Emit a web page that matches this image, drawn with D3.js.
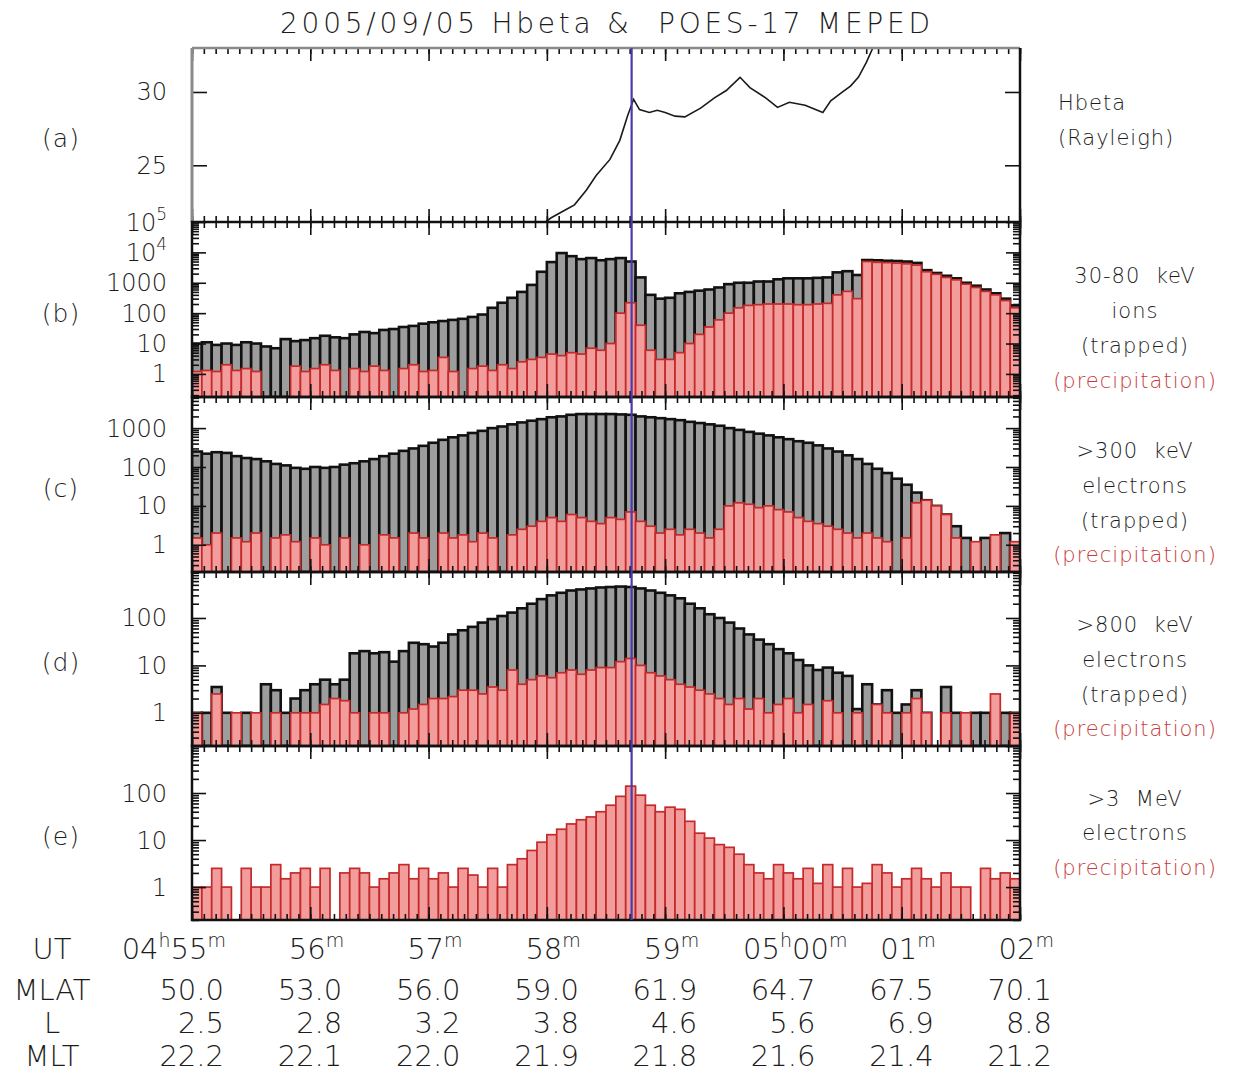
<!DOCTYPE html>
<html>
<head>
<meta charset="utf-8">
<script src="https://cdn.jsdelivr.net/npm/d3@7"></script>
<style>
  body { margin: 0; background: #fff; }
  svg text { font-family: "DejaVu Sans", "Liberation Sans", sans-serif; font-weight: 300; fill: #1c1c1c; }
</style>
</head>
<body>
<svg id="chart" width="1233" height="1074"></svg>
<script>
// ---- time frame (UT, 2005-09-05) ----
const startTime = Date.UTC(2005, 8, 5, 4, 55, 0);
const endTime   = Date.UTC(2005, 8, 5, 5, 2, 0);
const binSeconds = 5;                       // MEPED samples, 5 s bins
const eventTime = Date.UTC(2005, 8, 5, 4, 58, 43);

// ---- (a) H-beta brightness, Rayleigh ----
const hbetaSec = [178, 182, 190, 194, 200, 205, 212, 217, 221, 224, 227, 232, 236, 240, 245, 250,
                  258, 265, 271, 278, 283, 291, 297, 303, 311, 320, 324, 330, 334, 338, 342, 346];
const hbetaRayleigh = [21.0, 21.4, 22.0, 22.3, 23.3, 24.3, 25.4, 26.7, 28.4, 29.5, 28.8, 28.6, 28.75, 28.6, 28.35, 28.3,
                       28.9, 29.6, 30.1, 31.0, 30.3, 29.6, 28.95, 29.3, 29.1, 28.6, 29.4, 30.0, 30.4, 31.0, 32.0, 33.2];

// ---- (b) 30-80 keV ions ----
const ionsTrapped = [10, 11, 9, 10, 9, 11, 10, 8, 7, 14,
  12, 13, 15, 18, 16, 15, 20, 24, 22, 28,
  30, 35, 38, 45, 50, 55, 60, 65, 75, 90,
  150, 220, 320, 500, 850, 2300, 4800, 9500, 7500, 6000,
  6500, 5500, 6000, 6500, 5000, 1500, 400, 300, 320, 450,
  500, 550, 600, 700, 900, 1000, 1000, 1100, 1100, 1300,
  1400, 1400, 1400, 1450, 1500, 2200, 2400, 1800, 5600, 5500,
  5300, 5200, 5000, 4500, 2600, 2100, 1700, 1400, 1000, 800,
  600, 450, 300, 180];
const ionsPrecip = [1.2, 1.3, 1.2, 2.0, 1.3, 1.5, 1.2, 0, 0, 0,
  1.8, 1.2, 1.5, 2.0, 1.3, 0, 1.5, 1.2, 1.8, 1.3,
  0, 1.5, 2.0, 1.2, 1.3, 3.5, 1.2, 0, 1.5, 1.8,
  1.3, 2.0, 1.5, 2.5, 3.0, 3.5, 4.5, 4.0, 5.0, 4.5,
  7.0, 6.0, 10, 100, 220, 40, 6, 3, 3, 5,
  10, 20, 35, 60, 100, 150, 180, 190, 200, 200,
  200, 190, 190, 200, 210, 400, 520, 300, 5000, 4700,
  4600, 4400, 4200, 3800, 2300, 1900, 1500, 1250, 900, 700,
  520, 400, 260, 150];

// ---- (c) >300 keV electrons ----
const e300Trapped = [250, 220, 240, 230, 190, 170, 160, 140, 120, 110,
  95, 90, 100, 95, 100, 115, 125, 140, 160, 190,
  220, 260, 300, 350, 420, 500, 580, 650, 750, 850,
  1000, 1100, 1250, 1400, 1550, 1700, 1900, 2000, 2200, 2300,
  2300, 2300, 2300, 2250, 2200, 2000, 1900, 1800, 1700, 1600,
  1450, 1350, 1250, 1150, 1000, 900, 800, 720, 650, 580,
  520, 460, 420, 360, 300, 250, 200, 160, 120, 90,
  70, 50, 35, 22, 14, 10, 6, 3, 1.5, 0,
  1.5, 1.0, 2.0, 1.0];
const e300Precip = [1.5, 1.0, 2.0, 0, 1.5, 1.2, 2.0, 0, 1.5, 1.8,
  1.2, 0, 1.5, 1.0, 0, 1.5, 0, 1.0, 0, 1.8,
  1.5, 0, 2.0, 1.5, 0, 2.0, 1.5, 1.8, 1.2, 2.0,
  1.5, 0, 1.8, 2.5, 3.0, 4.0, 5.0, 4.0, 6.0, 5.0,
  4.0, 3.5, 5.0, 4.5, 7.0, 4.0, 3.0, 2.0, 2.5, 1.8,
  2.5, 2.0, 1.5, 2.5, 10, 12, 11, 9, 10, 8,
  7, 5, 4, 3.5, 3, 2.5, 2, 1.5, 2, 1.5,
  1.2, 0, 1.5, 12, 14, 10, 6, 1.5, 0, 1.2,
  0, 1.8, 0, 1.2];

// ---- (d) >800 keV electrons ----
const e800Trapped = [1, 1, 3.5, 1, 0, 1, 0, 4, 3, 1,
  2, 3, 4, 5, 4, 5, 18, 20, 18, 19,
  12, 20, 30, 28, 25, 30, 45, 55, 65, 80,
  95, 110, 130, 160, 200, 250, 300, 340, 380, 400,
  420, 440, 450, 460, 450, 420, 380, 340, 300, 260,
  200, 160, 120, 100, 80, 60, 45, 35, 28, 22,
  18, 13, 10, 8, 9, 7, 6, 1.2, 4, 1.5,
  3, 1, 1.5, 3, 1, 0, 3.5, 1, 0, 1,
  1, 0, 1, 1];
const e800Precip = [1, 0, 2.5, 0, 1, 0, 1, 0, 1, 0,
  1, 1, 1, 1.5, 2, 1.8, 1, 0, 1, 1,
  0, 1, 1.2, 1.5, 2, 2, 2.2, 3, 3, 2.5,
  3.5, 3, 8, 4, 5, 6, 5.5, 7, 8, 6.5,
  8, 9, 9, 12, 14, 10, 7, 6, 5, 4,
  3.5, 3, 2.5, 2, 1.5, 2, 1.2, 2, 1, 1.5,
  2, 1, 1.5, 0, 1.8, 1, 0, 1, 0, 1.5,
  1, 0, 1, 2, 1, 0, 1, 0, 1, 0,
  0, 2.5, 0, 1];

// ---- (e) >3 MeV electrons ----
const e3MeVPrecip = [1, 1, 2.5, 1, 0, 2.5, 1, 1, 3, 1.5,
  2, 2.5, 1, 2.5, 0, 2, 2.5, 2, 1, 1.5,
  2, 3, 1.5, 2.5, 1.5, 2, 1, 2.5, 1.8, 1,
  2.5, 1, 3, 4, 6, 9,
  13, 17, 22, 27, 31, 40, 55, 85, 140, 90, 55, 40, 50, 45, 25, 14, 11, 8, 7, 5,
  3, 2, 1.5, 3, 2, 1.5, 2.5, 1.2, 3, 1, 2.5, 1, 1.2, 3,
  2, 1, 1.5, 2.5, 1.5, 1, 2, 1, 1, 0, 2.5, 1.5, 2, 1.5];

// ---- axis labels ----
const hbetaTicks = [25, 30];
const ionTicks = ["1", "10", "100", "1000", "10^4", "10^5"];
const e300Ticks = ["1", "10", "100", "1000"];
const e800Ticks = ["1", "10", "100"];
const e3Ticks = ["1", "10", "100"];

const utHour = ["04", "", "", "", "", "05", "", ""];
const utMinute = ["55", "56", "57", "58", "59", "00", "01", "02"];
const mlatLabels = ["50.0", "53.0", "56.0", "59.0", "61.9", "64.7", "67.5", "70.1"];
const lShellLabels = ["2.5", "2.8", "3.2", "3.8", "4.6", "5.6", "6.9", "8.8"];
const mltLabels = ["22.2", "22.1", "22.0", "21.9", "21.8", "21.6", "21.4", "21.2"];
const rowNames = ["UT", "MLAT", "L", "MLT"];

const panelTags = ["(a)", "(b)", "(c)", "(d)", "(e)"];
const panelNotes = [
  [["Hbeta", false], ["(Rayleigh)", false]],
  [["30-80  keV", false], ["ions", false], ["(trapped)", false], ["(precipitation)", true]],
  [[">300  keV", false], ["electrons", false], ["(trapped)", false], ["(precipitation)", true]],
  [[">800  keV", false], ["electrons", false], ["(trapped)", false], ["(precipitation)", true]],
  [[">3  MeV", false], ["electrons", false], ["(precipitation)", true]]
];
const titleText = "2005/09/05 Hbeta &  POES-17 MEPED";

// ================= drawing =================
const svg = d3.select("#chart");
const X0 = 192, X1 = 1020;
const x = d3.scaleUtc().domain([new Date(startTime), new Date(endTime)]).range([X0, X1]);

const RED_TEXT = "#c83a3a";
const TRAP_FILL = "#9d9d9d", TRAP_LINE = "#111";
const PREC_FILL = "#f29c9c", PREC_LINE = "#c42a2a";

const panels = [
  { top: 48,  bottom: 222 },
  { top: 222, bottom: 397, domain: [Math.pow(10, -0.76), 1e5], ticks: ionTicks, trapped: ionsTrapped, precip: ionsPrecip },
  { top: 397, bottom: 572, domain: [Math.pow(10, -0.7), Math.pow(10, 3.8)], ticks: e300Ticks, trapped: e300Trapped, precip: e300Precip },
  { top: 572, bottom: 746, domain: [Math.pow(10, -0.7), Math.pow(10, 2.97)], ticks: e800Ticks, trapped: e800Trapped, precip: e800Precip },
  { top: 746, bottom: 920, domain: [Math.pow(10, -0.7), 1000], ticks: e3Ticks, trapped: null, precip: e3MeVPrecip }
];

const defs = svg.append("defs");
panels.forEach((p, i) => {
  defs.append("clipPath").attr("id", "clip" + i)
    .append("rect").attr("x", X0).attr("y", p.top).attr("width", X1 - X0).attr("height", p.bottom - p.top);
});

const binStart = i => new Date(startTime + i * binSeconds * 1000);
const binEnd = i => new Date(startTime + (i + 1) * binSeconds * 1000);

function drawBars(g, values, y, p, fill, stroke, sw) {
  const data = values.map((v, i) => ({ v, i })).filter(d => d.v > 0);
  g.append("g").selectAll("rect").data(data).join("rect")
    .attr("x", d => x(binStart(d.i)))
    .attr("width", d => x(binEnd(d.i)) - x(binStart(d.i)))
    .attr("y", d => Math.max(p.top, y(d.v)))
    .attr("height", d => p.bottom - Math.max(p.top, y(d.v)))
    .attr("fill", fill).attr("stroke", stroke).attr("stroke-width", sw);
}

function timeTicks(g, p) {
  const minor = x.ticks(d3.utcSecond.every(6));
  const major = x.ticks(d3.utcMinute.every(1));
  const sets = [[p.top, d3.axisTop], [p.bottom, d3.axisBottom]];
  sets.forEach(([yy, ax]) => {
    [[minor, -6], [major, -13]].forEach(([vals, len]) => {
      g.append("g").attr("transform", `translate(0,${yy})`)
        .call(ax(x).tickValues(vals).tickSize(len).tickFormat(""))
        .call(s => s.select(".domain").remove())
        .call(s => s.selectAll("line").attr("stroke", "#111").attr("stroke-width", 1.6));
    });
  });
}

function logTickValues(y) {
  const [lo, hi] = y.domain();
  const out = [];
  for (let e = Math.floor(Math.log10(lo)); e <= Math.ceil(Math.log10(hi)); e++) {
    for (let k = 1; k < 10; k++) {
      const v = k * Math.pow(10, e);
      if (v >= lo * 0.999 && v <= hi * 1.001) out.push({ v, major: k === 1 });
    }
  }
  return out;
}

function valueTicks(g, y, vals, len) {
  [[X0, d3.axisRight], [X1, d3.axisLeft]].forEach(([xx, ax]) => {
    g.append("g").attr("transform", `translate(${xx},0)`)
      .call(ax(y).tickValues(vals).tickSize(len).tickFormat(""))
      .call(s => s.select(".domain").remove())
      .call(s => s.selectAll("line").attr("stroke", "#111").attr("stroke-width", 1.6));
  });
}

function tickLabel(g, text, yy) {
  const t = g.append("text").attr("x", 167).attr("y", yy + 8.5)
    .attr("text-anchor", "end").attr("font-size", 24);
  if (text.includes("^")) {
    const [base, exp] = text.split("^");
    t.append("tspan").text(base);
    t.append("tspan").attr("dy", -11).attr("font-size", 17).text(exp);
  } else {
    t.text(text);
  }
}

// ---- panel (a): H-beta line ----
{
  const p = panels[0];
  const g = svg.append("g");
  const y = d3.scaleLinear().domain([21.13, 33]).range([p.bottom, p.top]);
  const pts = hbetaSec.map((s, i) => [new Date(startTime + s * 1000), hbetaRayleigh[i]]);
  g.append("path").attr("clip-path", "url(#clip0)")
    .attr("d", d3.line().x(d => x(d[0])).y(d => y(d[1]))(pts))
    .attr("fill", "none").attr("stroke", "#1a1a1a").attr("stroke-width", 1.6);
  timeTicks(g, p);
  valueTicks(g, y, hbetaTicks, 15);
  hbetaTicks.forEach(v => tickLabel(g, String(v), y(v)));
  g.append("line").attr("x1", X0).attr("x2", X0).attr("y1", p.top).attr("y2", p.bottom).attr("stroke", "#8a8a8a").attr("stroke-width", 3);
  g.append("line").attr("x1", X0).attr("x2", X1).attr("y1", p.top).attr("y2", p.top).attr("stroke", "#8a8a8a").attr("stroke-width", 2.5);
  g.append("line").attr("x1", X1).attr("x2", X1).attr("y1", p.top).attr("y2", p.bottom).attr("stroke", "#111").attr("stroke-width", 2.5);
}

// ---- panels (b)-(e): trapped / precipitating flux bars ----
panels.slice(1).forEach((p, k) => {
  const i = k + 1;
  const g = svg.append("g");
  const y = d3.scaleLog().domain(p.domain).range([p.bottom, p.top]);
  const bars = g.append("g").attr("clip-path", `url(#clip${i})`);
  if (p.trapped) drawBars(bars, p.trapped, y, p, TRAP_FILL, TRAP_LINE, 2.6);
  drawBars(bars, p.precip, y, p, PREC_FILL, PREC_LINE, 1.7);

  timeTicks(g, p);
  const lt = logTickValues(y);
  valueTicks(g, y, lt.filter(d => !d.major).map(d => d.v), 7);
  valueTicks(g, y, lt.filter(d => d.major).map(d => d.v), 14);
  p.ticks.forEach(t => {
    const v = t.includes("^") ? Math.pow(+t.split("^")[0], +t.split("^")[1]) : +t;
    tickLabel(g, t, y(v));
  });
  g.append("rect").attr("x", X0).attr("y", p.top).attr("width", X1 - X0).attr("height", p.bottom - p.top)
    .attr("fill", "none").attr("stroke", "#111").attr("stroke-width", 2.5);
});

// ---- event marker ----
svg.append("line")
  .attr("x1", x(new Date(eventTime))).attr("x2", x(new Date(eventTime)))
  .attr("y1", panels[0].top).attr("y2", panels[4].bottom)
  .attr("stroke", "#4a3ca8").attr("stroke-width", 2.2);

// ---- title ----
svg.append("text").attr("x", 280).attr("y", 33)
  .attr("font-size", 28).attr("textLength", 650).attr("lengthAdjust", "spacing")
  .style("white-space", "pre")
  .text(titleText);

// ---- panel tags and descriptions ----
panels.forEach((p, i) => {
  const mid = (p.top + p.bottom) / 2;
  svg.append("text").attr("x", 61).attr("y", mid + 12)
    .attr("text-anchor", "middle").attr("font-size", 25).attr("letter-spacing", 1)
    .text(panelTags[i]);
});

const noteRows = [[102, 137], [275, 310, 345, 380], [450, 485, 520, 554], [624, 659, 694, 728], [798, 832, 867]];
panelNotes.forEach((lines, i) => {
  lines.forEach(([txt, red], j) => {
    const t = svg.append("text").attr("y", noteRows[i][j] + 7.5)
      .attr("font-size", 21).attr("letter-spacing", 1)
      .style("white-space", "pre")
      .text(txt);
    if (i === 0) t.attr("x", 1058).attr("text-anchor", "start");
    else t.attr("x", 1135).attr("text-anchor", "middle");
    if (red) t.style("fill", RED_TEXT);
  });
});

// ---- orbit table under the time axis ----
const minutes = x.ticks(d3.utcMinute.every(1));
const rowBase = [959, 1000, 1033, 1066];
rowNames.forEach((name, r) => {
  svg.append("text").attr("x", 52).attr("y", rowBase[r]).attr("text-anchor", "middle")
    .attr("font-size", 29).text(name);
});
minutes.forEach((m, i) => {
  const tx = x(m);
  const ut = svg.append("text").attr("y", rowBase[0]).attr("text-anchor", "end").attr("font-size", 29)
    .attr("x", tx + (utHour[i] && i > 0 ? 64 : 34));
  if (utHour[i]) {
    ut.append("tspan").text(utHour[i]);
    ut.append("tspan").attr("dy", -12).attr("font-size", 19).text("h");
    ut.append("tspan").attr("dy", 12).text(utMinute[i]);
  } else {
    ut.append("tspan").text(utMinute[i]);
  }
  ut.append("tspan").attr("dy", -12).attr("font-size", 19).text("m");
  [mlatLabels, lShellLabels, mltLabels].forEach((arr, r) => {
    svg.append("text").attr("x", tx + 32).attr("y", rowBase[r + 1])
      .attr("text-anchor", "end").attr("font-size", 29).text(arr[i]);
  });
});
</script>
</body>
</html>
